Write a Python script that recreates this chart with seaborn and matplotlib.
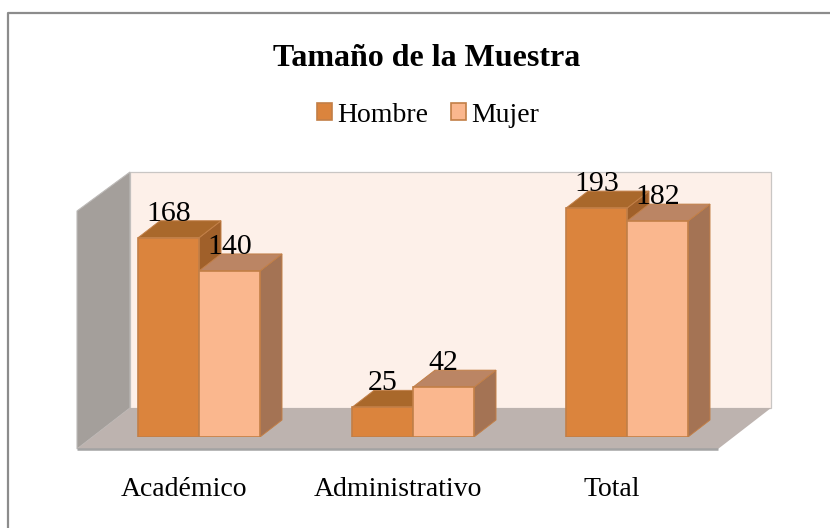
import matplotlib
matplotlib.use("Agg")
import matplotlib.pyplot as plt
from matplotlib.patches import Polygon
from matplotlib.lines import Line2D
from matplotlib.transforms import ScaledTranslation
import seaborn as sns
import pandas as pd

categories = ["Académico", "Administrativo", "Total"]
series_names = ["Hombre", "Mujer"]
hombre = [168, 25, 193]
mujer = [140, 42, 182]
title = "Tamaño de la Muestra"

W, H = 830, 528
SERIF = "Liberation Serif"
sns.set_theme(style="white")
plt.rcParams["font.family"] = [SERIF, "DejaVu Serif"]

fig = plt.figure(figsize=(W / 100, H / 100), dpi=100, facecolor="white")


def fx(px):
    return px / W


def fy(py):
    return 1 - py / H


def chrome(points, **kw):
    fig.add_artist(Polygon([(fx(x), fy(y)) for x, y in points], closed=True,
                           transform=fig.transFigure, zorder=-1, **kw))


def rule(xs, ys, color, lw):
    fig.add_artist(Line2D([fx(x) for x in xs], [fy(y) for y in ys], color=color, lw=lw,
                          transform=fig.transFigure, zorder=-0.5, solid_capstyle="butt"))


# outer frame (only left and top are visible in the reference)
rule([7.5, 7.5, W], [H, 12.5, 12.5], "#8C8C8C", 1.6)

# back wall, left wall, floor
chrome([(130, 172), (771, 172), (771, 408), (130, 408)], facecolor="#FDF0E9", edgecolor="#C9C6C4", lw=0.9)
chrome([(77, 211), (130, 172), (130, 408), (77, 449)], facecolor="#A49F9B", edgecolor="#BDBAB8", lw=0.8)
chrome([(130, 408), (771, 408), (718, 449), (77, 449)], facecolor="#BDB3AF", edgecolor="none")
rule([77, 718], [449, 449], "#A3A3A3", 1.8)

# axes: y = 0 on the bars' base line, category spacing 214 px
LEFT, RIGHT, TOP, BOTTOM = 92, 734, 172, 437
ax = fig.add_axes([fx(LEFT), fy(BOTTOM), (RIGHT - LEFT) / W, (BOTTOM - TOP) / H])
ax.set_facecolor("none")

df = pd.DataFrame({
    "categoria": categories * 2,
    "serie": [series_names[0]] * 3 + [series_names[1]] * 3,
    "valor": hombre + mujer,
})
front_colors = ["#DB843D", "#FAB78E"]
top_colors = ["#A9682B", "#BB8564"]
side_colors = ["#A0602A", "#A47354"]
edge = "#C27F47"

sns.barplot(data=df, x="categoria", y="valor", hue="serie", order=categories,
            hue_order=series_names, palette=front_colors, width=0.57, gap=0,
            saturation=1, edgecolor=edge, linewidth=1.2, legend=False, ax=ax)
ax.set_xlim(-0.5, 2.5)
ax.set_ylim(0, (BOTTOM - TOP) / 1.186)
ax.set_xlabel("")
ax.set_ylabel("")
ax.set_yticks([])

dx = 22 / ((RIGHT - LEFT) / 3)
dy = 17 / 1.186

for i, container in enumerate(ax.containers):
    z = 2 + 2 * i
    for bar in container:
        x0, w, h = bar.get_x(), bar.get_width(), bar.get_height()
        x1 = x0 + w
        bar.set_zorder(z + 1)
        ax.add_patch(Polygon([(x1, 0), (x1 + dx, dy), (x1 + dx, h + dy), (x1, h)], closed=True,
                             facecolor=side_colors[i], edgecolor=edge, lw=0.7, zorder=z))
        ax.add_patch(Polygon([(x0, h), (x0 + dx, h + dy), (x1 + dx, h + dy), (x1, h)], closed=True,
                             facecolor=top_colors[i], edgecolor=edge, lw=0.7, zorder=z))
        ax.annotate(f"{h:.0f}", (x0 + w / 2, h), xytext=(0, 17 * 0.72), textcoords="offset points",
                    ha="center", va="baseline", fontsize=21.5, color="black", zorder=10,
                    annotation_clip=False)

sns.despine(ax=ax, left=True, bottom=True)
ax.tick_params(axis="x", length=0, pad=29, labelsize=20, labelcolor="black")
shift = ScaledTranslation(-15 / 100, 0, fig.dpi_scale_trans)
for label in ax.get_xticklabels():
    label.set_transform(label.get_transform() + shift)

fig.text(fx(427), fy(66), title, ha="center", va="baseline", fontsize=23,
         fontweight="bold", color="black")

handles = [c[0] for c in ax.containers]
fig.legend(handles, series_names, loc="center", bbox_to_anchor=(fx(428), fy(115)), ncol=2,
           frameon=False, fontsize=20, handlelength=0.54, handleheight=0.54,
           handletextpad=0.16, columnspacing=0.85, borderpad=0, labelcolor="black")

fig.savefig("out.png", dpi=100)
